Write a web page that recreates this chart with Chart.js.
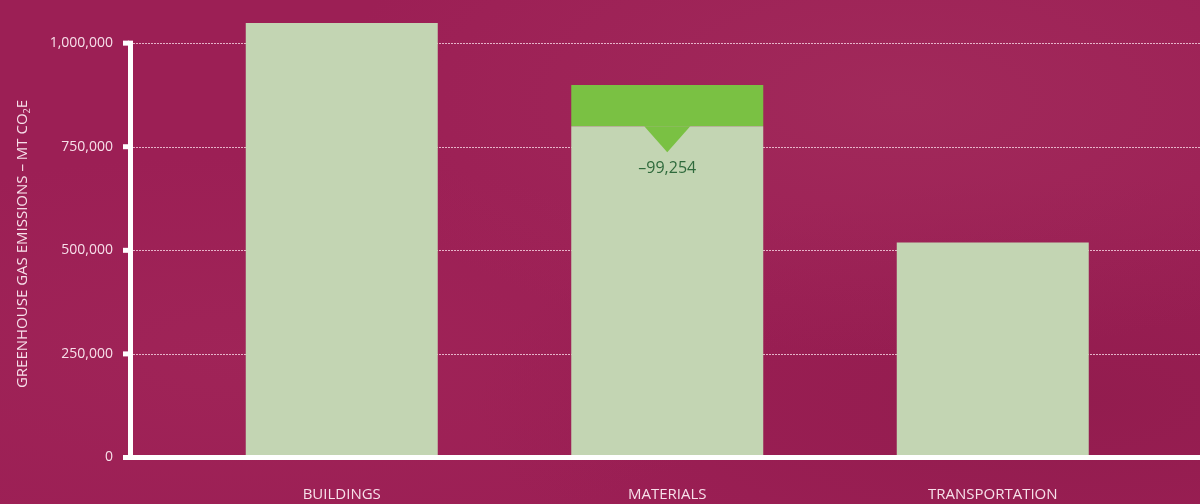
<!DOCTYPE html>
<html>
<head>
<meta charset="utf-8">
<script src="https://cdn.jsdelivr.net/npm/chart.js@4/dist/chart.umd.min.js"></script>
<style>
  html, body { margin: 0; padding: 0; }
  body {
    width: 1200px; height: 504px; overflow: hidden;
    background: #9C1F55;
    background-image:
      radial-gradient(ellipse at 75% 20%, rgba(170,60,100,0.35), rgba(0,0,0,0) 45%),
      radial-gradient(ellipse at 20% 70%, rgba(170,50,95,0.25), rgba(0,0,0,0) 40%),
      radial-gradient(ellipse at 90% 80%, rgba(120,20,60,0.25), rgba(0,0,0,0) 40%);
  }
  canvas { display: block; }
</style>
</head>
<body>
<canvas id="c" width="1200" height="504"></canvas>
<script>
const categories = ['BUILDINGS', 'MATERIALS', 'TRANSPORTATION'];
const baseValues = [1048500, 799500, 519000];
const reductionValues = [0, 99254, 0];
const yTicks = [0, 250000, 500000, 750000, 1000000];
const yMax = 1100000;
const yTitle = ['GREENHOUSE GAS EMISSIONS \u2013 MT CO', '2', 'E'];

const FONT = '"Open Sans", "Noto Sans", sans-serif';
const fmt = v => v.toLocaleString('en-US');

const overlay = {
  id: 'overlay',
  beforeDatasetsDraw(chart) {
    const ctx = chart.ctx, y = chart.scales.y;
    ctx.save();
    ctx.strokeStyle = 'rgba(255,230,240,0.75)';
    ctx.lineWidth = 1;
    ctx.setLineDash([2, 1]);
    yTicks.forEach(v => {
      if (v === 0) return;
      const py = Math.round(y.getPixelForValue(v)) + 0.5;
      ctx.beginPath(); ctx.moveTo(133, py); ctx.lineTo(1200, py); ctx.stroke();
    });
    ctx.restore();
  },
  afterDatasetsDraw(chart) {
    const ctx = chart.ctx, y = chart.scales.y;
    const y0 = y.getPixelForValue(0);
    ctx.save();
    ctx.fillStyle = '#FFFFFF';
    const yTop = y.getPixelForValue(yTicks[yTicks.length - 1]);
    ctx.fillRect(128, yTop - 2.5, 5, y0 - yTop + 5);
    yTicks.forEach(v => {
      const py = y.getPixelForValue(v);
      ctx.fillRect(123, py - 2.5, 6, 5);
    });
    ctx.fillRect(128, y0 - 2.5, 1200 - 128, 5);

    const meta0 = chart.getDatasetMeta(0);
    reductionValues.forEach((r, i) => {
      if (!r) return;
      const bar = meta0.data[i];
      const cx = bar.x, topY = bar.y;
      ctx.fillStyle = '#7AC143';
      ctx.beginPath();
      ctx.moveTo(cx - 23, topY);
      ctx.lineTo(cx + 23, topY);
      ctx.lineTo(cx, topY + 26);
      ctx.closePath();
      ctx.fill();
      ctx.fillStyle = '#2F6A3C';
      ctx.font = '16px ' + FONT;
      ctx.textAlign = 'center';
      ctx.textBaseline = 'middle';
      ctx.fillText('\u2013' + fmt(r), cx, topY + 42);
    });

    ctx.translate(23, 244);
    ctx.rotate(-Math.PI / 2);
    ctx.fillStyle = 'rgba(255,240,246,0.92)';
    ctx.textBaseline = 'middle';
    ctx.textAlign = 'left';
    const bigFont = '15px ' + FONT, smallFont = '9px ' + FONT;
    ctx.font = bigFont;
    const w0 = ctx.measureText(yTitle[0]).width;
    const w2 = ctx.measureText(yTitle[2]).width;
    ctx.font = smallFont;
    const w1 = ctx.measureText(yTitle[1]).width;
    let x = -(w0 + w1 + w2) / 2;
    ctx.font = bigFont;
    ctx.fillText(yTitle[0], x, 0); x += w0;
    ctx.font = smallFont;
    ctx.fillText(yTitle[1], x, 4); x += w1;
    ctx.font = bigFont;
    ctx.fillText(yTitle[2], x, 0);
    ctx.restore();
  }
};

new Chart(document.getElementById('c'), {
  type: 'bar',
  data: {
    labels: categories,
    datasets: [
      { label: 'Emissions', data: baseValues, backgroundColor: '#C3D5B3',
        categoryPercentage: 1, barPercentage: 192 / 325.5, borderWidth: 0 },
      { label: 'Reduction', data: reductionValues, backgroundColor: '#7AC143',
        categoryPercentage: 1, barPercentage: 192 / 325.5, borderWidth: 0 }
    ]
  },
  options: {
    responsive: false,
    animation: false,
    events: [],
    layout: { padding: { top: 1.7, right: 44.5, left: 0, bottom: 0 } },
    plugins: { legend: { display: false }, tooltip: { enabled: false } },
    scales: {
      x: {
        stacked: true,
        grid: { display: false, drawTicks: false },
        border: { display: false },
        ticks: { color: 'rgba(255,240,246,0.92)', font: { family: FONT, size: 15 }, padding: 28, maxRotation: 0 },
        afterFit(s) { s.height = 46.5; s.paddingLeft = 0; s.paddingRight = 0; }
      },
      y: {
        stacked: true,
        min: 0,
        max: yMax,
        afterBuildTicks(s) { s.ticks = yTicks.map(v => ({ value: v })); },
        grid: { display: false, drawTicks: false },
        border: { display: false },
        ticks: { color: 'rgba(255,240,246,0.92)', font: { family: FONT, size: 14 }, padding: 66,
                 callback: v => fmt(v) },
        afterFit(s) { s.width = 179; s.paddingTop = 0; s.paddingBottom = 0; }
      }
    }
  },
  plugins: [overlay]
});
</script>
</body>
</html>
